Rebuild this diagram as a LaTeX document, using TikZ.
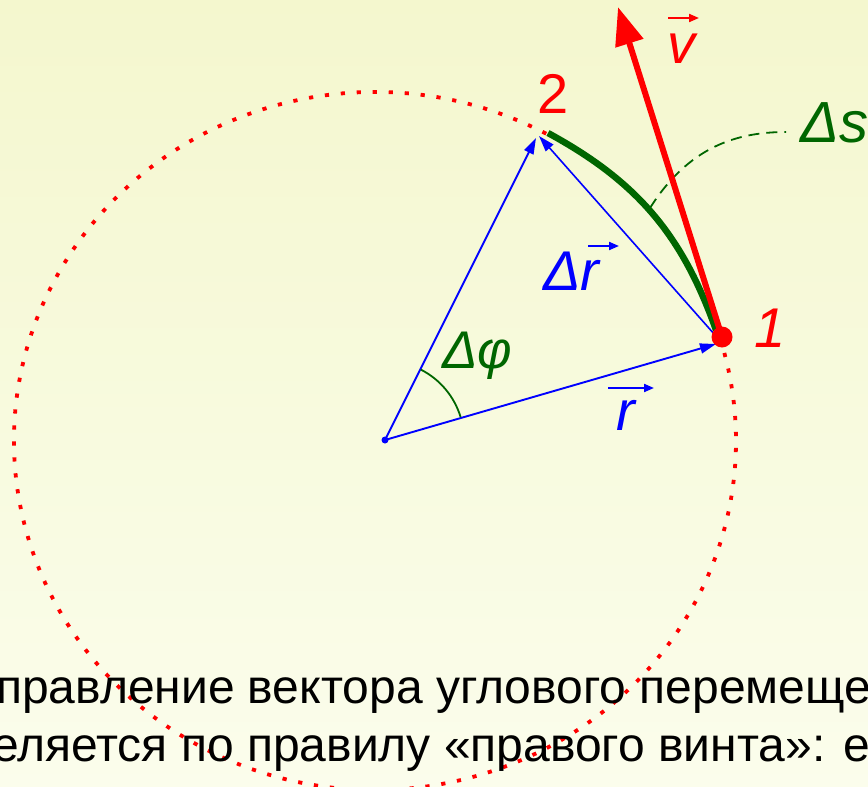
\documentclass[tikz,border=0pt]{standalone}
\usepackage{fontspec}
\setmainfont{Liberation Sans}
\usetikzlibrary{arrows.meta}
\definecolor{bgtop}{RGB}{244,247,206}
\definecolor{bgbot}{RGB}{251,253,236}
\definecolor{dkgreen}{RGB}{0,102,0}
\definecolor{myred}{RGB}{255,0,0}
\definecolor{myblue}{RGB}{0,0,255}
\tikzset{
  vecline/.style={myblue, line width=1.9pt, -{Triangle[length=16pt,width=10pt]}},
  lblarrow/.style={line width=2pt, -{Triangle[length=10pt,width=8pt]}},
  lbl/.style={inner sep=0pt, font=\fontsize{56}{64}\selectfont\itshape},
  bodytext/.style={inner sep=0pt, anchor=base west, font=\fontsize{48}{56}\selectfont},
  orbit/.style={myred, line width=3.8pt, line cap=rect, dash pattern=on 0.4pt off 15.6pt},
}
\begin{document}
\begin{tikzpicture}[x=1pt,y=-1pt]
\useasboundingbox (0,0) rectangle (868,787);
\shade[top color=bgtop, bottom color=bgbot] (0,0) rectangle (868,787);
\clip (0,0) rectangle (868,787);
% key points
\coordinate (C) at (375,441);
\coordinate (O) at (385,440);
\coordinate (P1) at (722,337);
\coordinate (P1a) at (716,344);
\coordinate (P1b) at (715,335);
\coordinate (P1g) at (716,330);
\coordinate (P2) at (536,138);
\coordinate (P2b) at (539,136);
\coordinate (P2g) at (548,133);
\coordinate (Vtip) at (618,7);
% dotted orbit
\draw[orbit] ([shift={(62:361pt and 349pt)}]C) arc[start angle=62, end angle=377, x radius=361pt, y radius=349pt];
% blue vectors
\draw[vecline] (O) -- (P1a);
\draw[vecline] (O) -- (P2);
\draw[vecline, line width=1.6pt] (P1b) -- (P2b);
\fill[myblue] (O) circle[radius=3.5pt];
% angle arc
\draw[dkgreen, line width=1.8pt] ([shift={(16.8:79pt)}]O) arc[start angle=16.8, end angle=63, radius=79pt];
% green arc ds
\draw[dkgreen, line width=6.5pt] (P2g) to[bend left=21] (P1g);
% dashed leader
\coordinate (Lstart) at (650,208);
\coordinate (Lend) at (786,132);
\draw[dkgreen, line width=1.8pt, dash pattern=on 11pt off 7pt] (Lstart) .. controls (688,148) and (735,132) .. (Lend);
% red velocity vector
\draw[myred, line width=6pt, -{Triangle[length=38pt,width=28pt]}] (P1) -- (Vtip);
\fill[myred] (P1) circle[radius=10.5pt];
% labels
\node[lbl, myred, font=\fontsize{56}{64}\selectfont, anchor=base] (n2) at (553,113) {2};
\node[lbl, myred, anchor=base] (n1) at (770,347) {1};
\node[lbl, dkgreen, font=\fontsize{58}{64}\selectfont\itshape, anchor=base west] (ds) at (800,142) {Δs};
\node[lbl, myred, anchor=base] (v) at (681,63) {v};
\coordinate (va) at (668,18); \coordinate (vb) at (699,18);
\draw[lblarrow, myred] (va) -- (vb);
\node[lbl, myblue, anchor=base west] (dr) at (543,290) {Δr};
\coordinate (dra) at (588,246); \coordinate (drb) at (619,246);
\draw[lblarrow, myblue] (dra) -- (drb);
\node[lbl, dkgreen, font=\fontsize{53}{60}\selectfont\itshape, anchor=base west] (dphi) at (442,368) {Δφ};
\node[lbl, myblue, anchor=base] (r) at (626,430) {r};
\coordinate (ra) at (608,388); \coordinate (rb) at (654,388);
\draw[lblarrow, myblue] (ra) -- (rb);
% body text
\node[bodytext] (t1) at (-4,703) {правление вектора углового перемеще};
\node[bodytext] (t2) at (-8,761) {еляется по правилу «правого винта»: е};
\end{tikzpicture}
\end{document}
